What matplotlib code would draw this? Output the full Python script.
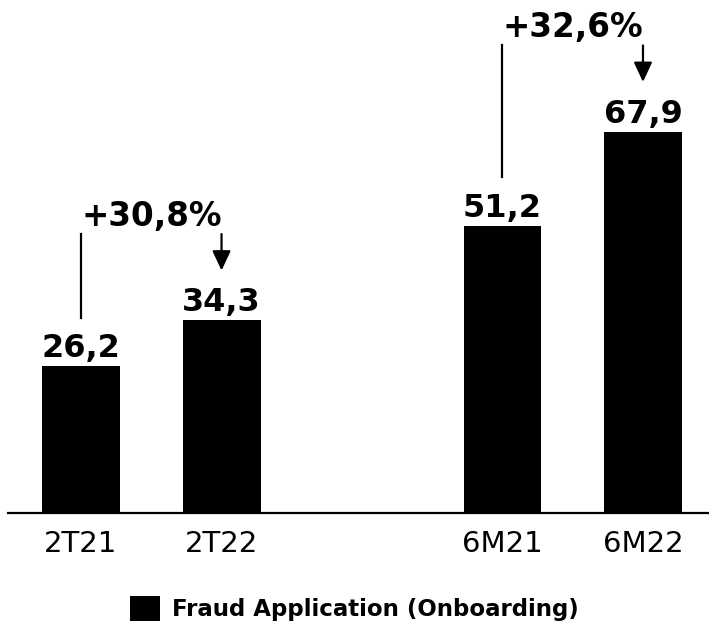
import numpy as np
import matplotlib.pyplot as plt

# Données
periodes = ['2T21', '2T22', '6M21', '6M22']
positions = [0, 1, 3, 4]
valeurs = [26.2, 34.3, 51.2, 67.9]
variations = ['+30,8%', '+32,6%']
legende = 'Fraud Application (Onboarding)'

fig = plt.figure(figsize=(7.09, 6.25), dpi=100)
ax = fig.add_axes([8 / 709, (625 - 513) / 625, 1 - 8 / 709, 513 / 625])

ax.bar(positions, valeurs, 0.555, color='black', label=legende)

# Etiquettes de valeur au-dessus des barres
for x, v in zip(positions, valeurs):
    ax.annotate(f'{v:.1f}'.replace('.', ','), (x, v), xytext=(0, 6.5),
                textcoords='offset points', ha='center', va='baseline',
                fontsize=23, fontweight='bold')

# Flèches de variation
for k, txt in enumerate(variations):
    i, j = 2 * k, 2 * k + 1
    x1, x2 = positions[i], positions[j]
    v1, v2 = valeurs[i], valeurs[j]
    haut = v2 + 15.4
    ax.plot([x1, x1], [v1 + 8.6, haut], color='black', lw=1.6)
    ax.annotate('', xy=(x2, v2 + 8.9), xytext=(x2, haut),
                arrowprops=dict(arrowstyle='-|>,head_length=0.6,head_width=0.28',
                                color='black', lw=1.6, mutation_scale=20,
                                shrinkA=0, shrinkB=0))
    ax.text((x1 + x2) / 2, v2 + 16.9, txt, ha='center', va='baseline',
            fontsize=23.5, fontweight='bold')

ax.set_xlim(-0.52, 4.47)
ax.set_ylim(0, 91.4)
ax.set_xticks(positions)
ax.set_xticklabels(periodes, fontsize=21)
ax.tick_params(axis='x', length=0, pad=12)
ax.set_yticks([])
for s in ['top', 'right', 'left']:
    ax.spines[s].set_visible(False)
ax.spines['bottom'].set_linewidth(1.6)
ax.patch.set_alpha(0)

fig.legend(loc='lower center', bbox_to_anchor=(0.5, -0.027), frameon=False,
           prop={'weight': 'bold', 'size': 16.5}, handlelength=1.3,
           handleheight=1.3, handletextpad=0.5)

fig.savefig('out.png', dpi=100)
